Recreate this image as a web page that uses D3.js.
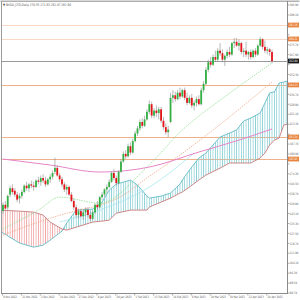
<!DOCTYPE html>
<html>
<head>
<meta charset="utf-8">
<script src="https://cdn.jsdelivr.net/npm/d3@7"></script>
<style>
  body { margin: 0; background: #fff; }
  svg { display: block; font-family: "DejaVu Sans", sans-serif; }
</style>
</head>
<body>
<svg width="300" height="300"></svg>
<script>
// daily candles, 8 Nov 2022 .. 25 Apr 2023 (bar index 0..114)
const opens = [145,150,148,158,163,161,158,155,157,160, 165,163,166,165,164,169,168,171,169,166,
  170,172,176,179,173,170,166,162,164,158, 153,148,142,145,141,144,146,142,139,144,
  150,148,156,158,162,164,168,175,171,167, 176,184,190,188,196,191,200,206,210,215,
  212,217,223,229,220,224,222,225,216,211, 207,215,234,236,233,238,235,240,234,230,
  234,228,230,233,229,240,245,256,262,260, 266,264,271,269,264,267,270,268,277,278,
  275,277,270,271,268,270,266,271,268,275, 280,274,271,272,270];
const highs = [152,153,158,165,166,163,160,159,162,166, 168,167,169,168,170,172,173,174,172,171,
  174,177,187,181,175,172,168,166,165,160, 155,150,147,147,146,148,148,145,145,151,
  153,157,160,163,166,170,176,178,173,177, 186,192,193,198,199,202,208,212,217,218,
  220,225,232,231,226,228,227,227,219,214, 212,238,240,239,240,242,241,242,238,236,
  237,232,235,236,242,247,258,264,266,268, 271,273,277,272,268,272,274,278,281,281,
  280,278,273,278,271,272,272,273,276,282, 281,279,274,273,272];
const lows = [143,146,146,156,158,156,152,151,155,159, 161,160,163,161,163,166,165,167,164,165,
  167,170,174,172,168,164,160,158,157,152, 146,140,139,140,138,141,140,137,138,143,
  146,147,154,156,159,163,167,169,165,166, 175,183,186,187,189,190,199,204,208,210,
  211,216,221,218,218,219,217,214,209,205, 203,214,230,231,232,233,234,232,228,229,
  226,224,227,228,228,238,244,254,258,259, 262,263,267,262,259,265,266,267,273,274,
  271,268,266,266,264,264,265,266,267,274, 272,269,268,267,261];
const closes = [150,147,157,163,160,158,154,157,160,165, 163,166,165,164,169,168,171,169,166,170,
  172,175,179,173,170,166,162,164,158,153, 148,142,145,141,144,146,142,139,144,150,
  148,156,158,162,164,168,175,171,167,176, 184,190,188,196,191,200,206,210,215,212,
  217,223,229,220,224,222,225,216,211,207, 209,234,236,233,238,235,240,234,230,234,
  228,230,233,229,240,245,256,262,260,266, 264,271,269,264,267,270,268,277,278,275,
  277,270,271,268,270,266,271,268,275,280, 274,271,272,270,262.9];

// ichimoku cloud (shifted forward), read at these bar indices
const cloudIdx = [-2,7,13,17,20,25,27,31,38,42,45,48,54,57,61,62,67,71,75,76,79,83,86,92,96,99,102,105,109,111,113,115,117,119,122];
const spanA = [130.1,119.9,116.7,118.3,122.2,129.3,135.6,145.8,146.6,152.1,161.5,166.2,169.4,165.5,156.8,155.2,156.8,159.2,166.2,169.4,177.2,186.7,190.6,203.2,206.3,208.7,215.8,218.1,222.1,229.9,237.8,238.6,245.6,246.4,248.0];
const spanB = [145.8,145.0,144.2,141.9,136.4,130.9,130.1,132.4,136.4,137.2,137.9,143.4,145.8,145.8,145.8,148.2,152.1,155.2,159.2,160.0,163.9,169.4,173.3,178.8,182.8,182.8,182.8,182.8,186.7,190.6,196.9,200.8,202.4,212.6,214.2];

// moving averages
const maSlowIdx = [0,20,41,62,83,100,114];
const maSlow = [185.9,181.2,175.7,179.6,191.4,200.8,209.5];
const maFastIdx = [-1,15,24,41,61,76,95,114];
const maFast = [130.1,145.8,156.0,151.3,179.6,208.7,236.2,261.4];
const maMidIdx = [-1,15,32,41,51,61,75,89,114];
const maMid = [125.4,136.4,145.8,149.7,157.6,171.0,189.0,208.7,246.4];
const maCyanIdx = [24,41,62,81];
const maCyan = [136.4,145.8,163.9,190.6];

// horizontal levels
const levels = [291.18, 280.21, 244.13, 203.24, 185.93];
const lastPrice = 262.90;

const priceTicks = ['306.90','299.10','291.30','283.50','275.70','267.90','260.10','252.30','244.50','236.70',
  '228.90','221.10','213.30','205.50','197.70','189.90','182.10','174.30','166.50','158.70',
  '150.90','143.10','135.30','127.50','119.70','111.90','104.10','96.30','88.50','80.70'];
const dateTicks = [0,8,16,24,32,40,48,56,64,72,80,88,96,104,112];
const dateLabels = ['8 Nov 2022','21 Nov 2022','2 Dec 2022','14 Dec 2022','27 Dec 2022','9 Jan 2023',
  '20 Jan 2023','1 Feb 2023','13 Feb 2023','24 Feb 2023','8 Mar 2023','20 Mar 2023','30 Mar 2023',
  '12 Apr 2023','24 Apr 2023'];

const title = 'NVDA_CFD,Daily  270.35 271.63 262.07 262.90';

const plot = {left: 2, right: 287, top: 2, bottom: 293};
const x = d3.scaleLinear().domain([0, 114]).range([3, 272]);
const y = d3.scaleLinear().domain([80.7, 306.9]).range([293, 5]);
const step = x(1) - x(0);

const svg = d3.select('svg');
const defs = svg.append('defs');

defs.append('clipPath').attr('id', 'plotClip')
  .append('rect')
  .attr('x', plot.left).attr('y', plot.top)
  .attr('width', plot.right - plot.left).attr('height', plot.bottom - plot.top);

function hatch(id, color) {
  defs.append('pattern')
    .attr('id', id)
    .attr('patternUnits', 'userSpaceOnUse')
    .attr('x', x(0) - 0.4)
    .attr('width', step).attr('height', 4)
    .append('rect')
    .attr('width', 0.8).attr('height', 4)
    .attr('fill', color);
}
hatch('hatchBlue', '#8ccfd6');
hatch('hatchRed', '#efa4a4');

const cloud = cloudIdx.map((i, k) => ({i, a: spanA[k], b: spanB[k]}));

// clip regions above and below span B
defs.append('clipPath').attr('id', 'aboveB')
  .append('path')
  .attr('d', d3.area().x(d => x(d.i)).y0(plot.top).y1(d => y(d.b))(cloud));
defs.append('clipPath').attr('id', 'belowB')
  .append('path')
  .attr('d', d3.area().x(d => x(d.i)).y0(plot.bottom).y1(d => y(d.b))(cloud));

const g = svg.append('g').attr('clip-path', 'url(#plotClip)');

// level lines
g.selectAll('.level')
  .data(levels)
  .enter()
  .append('line')
  .attr('class', 'level')
  .attr('x1', plot.left).attr('x2', plot.right)
  .attr('y1', d => Math.round(y(d)) + 0.5)
  .attr('y2', d => Math.round(y(d)) + 0.5)
  .attr('stroke', (d, k) => k < 2 ? '#f9d9c4' : '#f0b08a')
  .attr('stroke-width', 1);

// cloud
const band = d3.area().x(d => x(d.i)).y0(d => y(d.a)).y1(d => y(d.b));
g.append('g').attr('clip-path', 'url(#aboveB)')
  .append('path').attr('d', band(cloud)).attr('fill', 'url(#hatchBlue)');
g.append('g').attr('clip-path', 'url(#belowB)')
  .append('path').attr('d', band(cloud)).attr('fill', 'url(#hatchRed)');
g.append('path')
  .attr('d', d3.line().x(d => x(d.i)).y(d => y(d.a))(cloud))
  .attr('fill', 'none').attr('stroke', '#62bcc6').attr('stroke-width', 0.9);
g.append('path')
  .attr('d', d3.line().x(d => x(d.i)).y(d => y(d.b))(cloud))
  .attr('fill', 'none').attr('stroke', '#c77a7a').attr('stroke-width', 0.9);

// moving averages
function maLine(idx, vals, color, dash, width) {
  const pts = idx.map((i, k) => [x(i), y(vals[k])]);
  g.append('path')
    .attr('d', d3.line().curve(d3.curveMonotoneX)(pts))
    .attr('fill', 'none')
    .attr('stroke', color)
    .attr('stroke-width', width)
    .attr('stroke-dasharray', dash);
}
maLine(maCyanIdx, maCyan, '#a8e6f0', null, 0.8);
maLine(maMidIdx, maMid, '#f4a98a', '1.5,1', 0.8);
maLine(maFastIdx, maFast, '#8fe08f', '1.5,1', 0.8);
maLine(maSlowIdx, maSlow, '#e585c9', null, 1);

// current price line
g.append('line')
  .attr('x1', plot.left).attr('x2', plot.right)
  .attr('y1', Math.round(y(lastPrice)) + 0.5)
  .attr('y2', Math.round(y(lastPrice)) + 0.5)
  .attr('stroke', '#9a9a9a').attr('stroke-width', 1);

// candles
const bars = closes.map((c, i) => ({i, o: opens[i], h: highs[i], l: lows[i], c}));
g.selectAll('.wick')
  .data(bars)
  .enter()
  .append('line')
  .attr('class', 'wick')
  .attr('x1', d => x(d.i)).attr('x2', d => x(d.i))
  .attr('y1', d => y(d.h)).attr('y2', d => y(d.l))
  .attr('stroke', '#8a8a8a').attr('stroke-width', 0.6);
g.selectAll('.body')
  .data(bars)
  .enter()
  .append('rect')
  .attr('class', 'body')
  .attr('x', d => x(d.i) - 0.9)
  .attr('width', 1.8)
  .attr('y', d => y(Math.max(d.o, d.c)))
  .attr('height', d => Math.max(0.6, Math.abs(y(d.o) - y(d.c))))
  .attr('fill', d => d.c >= d.o ? '#32b043' : '#e3151a');

// frame
svg.append('rect')
  .attr('x', 0.5).attr('y', 0.5).attr('width', 299).attr('height', 1.5)
  .attr('fill', '#b0b0b0');
svg.append('line')
  .attr('x1', 1.5).attr('x2', 1.5).attr('y1', 1).attr('y2', plot.bottom)
  .attr('stroke', '#9a9a9a');
svg.append('line')
  .attr('x1', plot.right + 0.5).attr('x2', plot.right + 0.5).attr('y1', 1).attr('y2', plot.bottom)
  .attr('stroke', '#8a8a8a');
svg.append('line')
  .attr('x1', 1).attr('x2', plot.right + 1).attr('y1', plot.bottom + 0.5).attr('y2', plot.bottom + 0.5)
  .attr('stroke', '#8a8a8a');

// title
svg.append('text')
  .attr('x', 3).attr('y', 6)
  .attr('font-size', 3.4)
  .attr('fill', '#555')
  .attr('textLength', 68)
  .attr('lengthAdjust', 'spacingAndGlyphs')
  .text('\u25BC ' + title);

// price axis; tick labels hidden where a badge sits on them
const badgeVals = levels.concat([lastPrice]);
const freeTicks = priceTicks.filter(t => badgeVals.every(v => Math.abs(y(+t) - y(v)) > 5));
const pa = svg.append('g');
pa.selectAll('.ptick')
  .data(priceTicks)
  .enter()
  .append('line')
  .attr('x1', plot.right + 1).attr('x2', plot.right + 2.5)
  .attr('y1', d => y(+d)).attr('y2', d => y(+d))
  .attr('stroke', '#777').attr('stroke-width', 0.6);
pa.selectAll('.plabel')
  .data(freeTicks)
  .enter()
  .append('text')
  .attr('x', plot.right + 2.8).attr('y', d => y(+d) + 1.2)
  .attr('font-size', 3.2)
  .attr('fill', '#555')
  .attr('textLength', d => d.length > 5 ? 8.6 : 7.2)
  .attr('lengthAdjust', 'spacingAndGlyphs')
  .text(d => d);

function badge(v, fill) {
  const yy = y(v);
  pa.append('rect')
    .attr('x', plot.right + 1).attr('y', yy - 2.4)
    .attr('width', 11).attr('height', 4.8)
    .attr('fill', fill);
  pa.append('text')
    .attr('x', plot.right + 2).attr('y', yy + 1.2)
    .attr('font-size', 3.2)
    .attr('fill', '#fff')
    .attr('textLength', 8.6)
    .attr('lengthAdjust', 'spacingAndGlyphs')
    .text(v.toFixed(2));
}
levels.forEach(v => badge(v, '#e8843f'));
badge(lastPrice, '#1a1a1a');

// date axis
const da = svg.append('g');
da.selectAll('.dtick')
  .data(dateTicks)
  .enter()
  .append('line')
  .attr('x1', d => x(d) - 0.5).attr('x2', d => x(d) - 0.5)
  .attr('y1', plot.bottom + 1).attr('y2', plot.bottom + 2.5)
  .attr('stroke', '#777').attr('stroke-width', 0.6);
da.selectAll('.dlabel')
  .data(dateTicks)
  .enter()
  .append('text')
  .attr('x', d => x(d) + 0.3).attr('y', 298)
  .attr('font-size', 3.2)
  .attr('fill', '#555')
  .attr('textLength', (d, k) => dateLabels[k].length > 10 ? 15 : 13.5)
  .attr('lengthAdjust', 'spacingAndGlyphs')
  .text((d, k) => dateLabels[k]);
</script>
</body>
</html>
